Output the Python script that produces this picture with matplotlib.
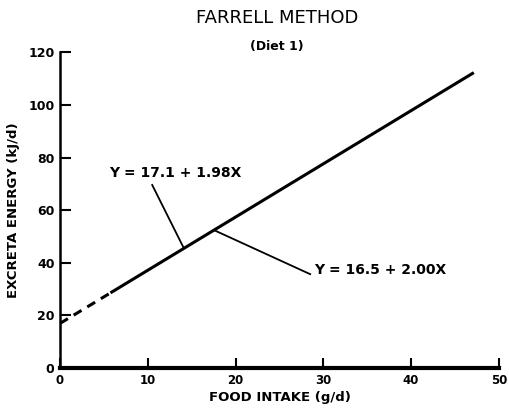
import matplotlib
matplotlib.use("Agg")
import matplotlib.pyplot as plt

# data
dash_x = [0, 5.9]
dash_y = [17.0, 28.9]
solid_x = [5.9, 47.0]
solid_y = [28.9, 112.0]
eq1_label = "Y = 17.1 + 1.98X"
eq2_label = "Y = 16.5 + 2.00X"
xticks = [0, 10, 20, 30, 40, 50]
yticks = [0, 20, 40, 60, 80, 100, 120]

fig = plt.figure(figsize=(5.09, 4.09), dpi=100)
ax = fig.add_axes([0.118, 0.100, 0.862, 0.772])

ax.plot(dash_x, dash_y, color="black", lw=2.2, ls=(0, (3, 2.2)), solid_capstyle="butt")
ax.plot(solid_x, solid_y, color="black", lw=2.2)

# leader lines
ax.plot([10.5, 14.1], [69.6, 45.6], color="black", lw=1.3)
ax.plot([17.5, 28.5], [52.5, 35.7], color="black", lw=1.3)
ax.text(5.6, 74, eq1_label, fontsize=10, fontweight="bold", va="center", ha="left")
ax.text(28.9, 37.3, eq2_label, fontsize=10, fontweight="bold", va="center", ha="left")

ax.set_xlim(0, 50)
ax.set_ylim(0, 120)
ax.set_xticks(xticks)
ax.set_yticks(yticks)
for s in ["top", "right"]:
    ax.spines[s].set_visible(False)
ax.spines["left"].set_linewidth(1.8)
ax.spines["bottom"].set_linewidth(3)
ax.tick_params(axis="x", direction="in", length=7, width=1.5, labelsize=8.5, pad=4)
ax.tick_params(axis="y", direction="in", length=8, width=1.5, labelsize=9, pad=4)
for lab in ax.get_xticklabels() + ax.get_yticklabels():
    lab.set_fontweight("bold")

ax.set_xlabel("FOOD INTAKE (g/d)", fontsize=9.5, fontweight="bold", labelpad=3)
ax.set_ylabel("EXCRETA ENERGY (kJ/d)", fontsize=9.5, fontweight="bold", labelpad=6)

fig.text(0.544, 0.956, "FARRELL METHOD", ha="center", va="center", fontsize=13)
fig.text(0.544, 0.886, "(Diet 1)", ha="center", va="center", fontsize=9, fontweight="bold")

fig.savefig("out.png", dpi=100)
